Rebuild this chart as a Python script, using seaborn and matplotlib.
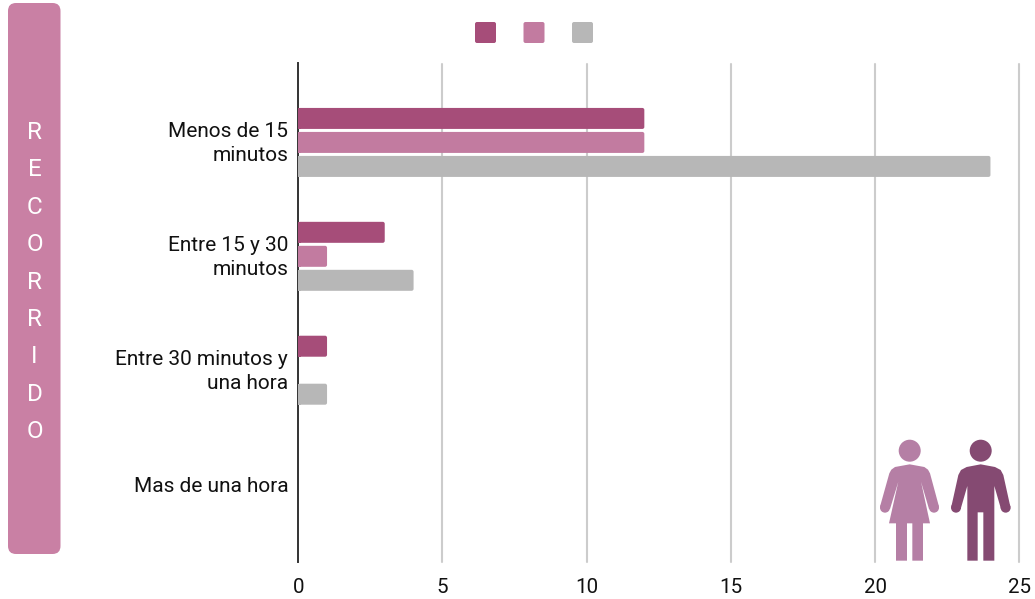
import matplotlib
matplotlib.use("Agg")
import matplotlib.pyplot as plt
import pandas as pd
import seaborn as sns
from matplotlib.patches import FancyBboxPatch, Circle, Polygon
from matplotlib.transforms import ScaledTranslation

categories = ["Menos de 15\nminutos", "Entre 15 y 30\nminutos", "Entre 30 minutos y\nuna hora", "Mas de una hora"]
mujeres = [12, 3, 1, 0]
hombres = [12, 1, 0, 0]
total = [24, 4, 1, 0]
series_names = ["Mujeres", "Hombres", "Total"]
series_colors = ["#A64D79", "#C27BA0", "#B7B7B7"]
x_ticks = [0, 5, 10, 15, 20, 25]
side_title = "RECORRIDO"

W, H = 1035, 599
sns.set_theme(style="white")
plt.rcParams["font.family"] = ["Roboto", "DejaVu Sans"]

df = pd.DataFrame({"cat": categories, "Mujeres": mujeres, "Hombres": hombres, "Total": total})
long = df.melt(id_vars="cat", var_name="serie", value_name="valor")

fig = plt.figure(figsize=(W / 100, H / 100), dpi=100, facecolor="white")
ax = fig.add_axes([298.2 / W, 1 - 562 / H, (1019.3 - 298.2) / W, (562 - 63.5) / H])
sns.barplot(data=long, y="cat", x="valor", hue="serie", order=categories, hue_order=series_names,
            palette=series_colors, width=0.632, gap=0.125, saturation=1, legend=False, ax=ax, zorder=3)
ax.set_xlim(0, 25)
ax.set_ylim(3.684, -0.693)
ax.set_xticks(x_ticks)
ax.set_xlabel("")
ax.set_ylabel("")
for s in ["top", "right", "bottom"]:
    ax.spines[s].set_visible(False)
ax.spines["left"].set_color("#333333")
ax.spines["left"].set_linewidth(1.4)
ax.spines["left"].set_zorder(5)
ax.xaxis.grid(True, color="#CCCCCC", linewidth=1.5, zorder=0)
for gl in ax.get_xgridlines():
    gl.set_clip_on(False)
ax.get_xgridlines()[0].set_visible(False)
ax.yaxis.grid(False)
ax.tick_params(axis="x", length=0, pad=11.5, labelsize=14.8, labelcolor="#111111")
ax.tick_params(axis="y", length=0, pad=7.2, labelsize=15, labelcolor="#111111")
for t in ax.get_yticklabels():
    t.set_linespacing(1.3)
    if "\n" in t.get_text():
        t.set_transform(t.get_transform() + ScaledTranslation(0, 3 / 100, fig.dpi_scale_trans))

# Overlay in pixel coordinates for decoration
ov = fig.add_axes([0, 0, 1, 1], facecolor="none")
ov.set_xlim(0, W)
ov.set_ylim(H, 0)
ov.axis("off")

# Rounded bars, from the geometry of the bars seaborn drew
fig.canvas.draw()
to_px = ax.transData
for bar in list(ax.patches):
    w = bar.get_width()
    if w <= 0:
        continue
    x0, y0 = to_px.transform((bar.get_x(), bar.get_y()))
    x1, y1 = to_px.transform((bar.get_x() + w, bar.get_y() + bar.get_height()))
    top, bot = H - y0, H - y1
    r = 2
    ov.add_patch(FancyBboxPatch((x0 + r, min(top, bot) + r), x1 - x0 - 2 * r, abs(bot - top) - 2 * r,
                                boxstyle=f"round,pad={r},rounding_size={r}", fc=bar.get_facecolor(), ec="none"))
    ov.add_patch(plt.Rectangle((x0, min(top, bot)), r + 1, abs(bot - top), fc=bar.get_facecolor(), ec="none"))
    bar.set_visible(False)

# Left side panel
ov.add_patch(FancyBboxPatch((16, 11), 36.5, 535, boxstyle="round,pad=8,rounding_size=8", fc="#C980A4", ec="none"))
for i, ch in enumerate(side_title):
    ov.text(34.5, 132.5 + i * 37.4, ch, color="white", fontsize=17.5,
            ha="center", va="center", family="Roboto")

# Legend swatches without text, as in the reference
for xs, c in zip([475, 523.5, 572], series_colors):
    ov.add_patch(FancyBboxPatch((xs + 2, 24), 17, 17, boxstyle="round,pad=2,rounding_size=2", fc=c, ec="none"))

# Pictograms
def pts(seq):
    return [(860 + a / 3, 420 + b / 3) for a, b in seq]

def hand(a, b, c):
    ov.add_patch(Circle(pts([(a, b)])[0], 5, fc=c, ec="none"))

woman = [(105, 141), (149, 133), (193, 141), (204, 149), (210, 160), (237, 260), (207, 267), (183, 185), (210, 310),
         (189, 310), (189, 422), (157, 422), (157, 310), (141, 310), (141, 422), (108, 422), (108, 310), (87, 310),
         (115, 185), (90, 267), (60, 260), (88, 160), (94, 149)]
man = [(320, 141), (362, 133), (405, 141), (422, 150), (430, 165), (451, 260), (423, 267), (403, 198), (403, 422),
       (370, 422), (370, 277), (353, 277), (353, 422), (322, 422), (322, 198), (302, 267), (274, 260),
       (295, 165), (303, 150)]
wc, mc = "#B57FA5", "#854A72"
ov.add_patch(Circle((909.7, 450.7), 11, fc=wc, ec="none"))
ov.add_patch(Polygon(pts(woman), closed=True, fc=wc, ec="none"))
hand(75, 263, wc)
hand(222, 263, wc)
ov.add_patch(Circle((980.7, 450.7), 11, fc=mc, ec="none"))
ov.add_patch(Polygon(pts(man), closed=True, fc=mc, ec="none"))
hand(288, 263, mc)
hand(437, 263, mc)

fig.savefig("out.png", dpi=100, facecolor="white")
